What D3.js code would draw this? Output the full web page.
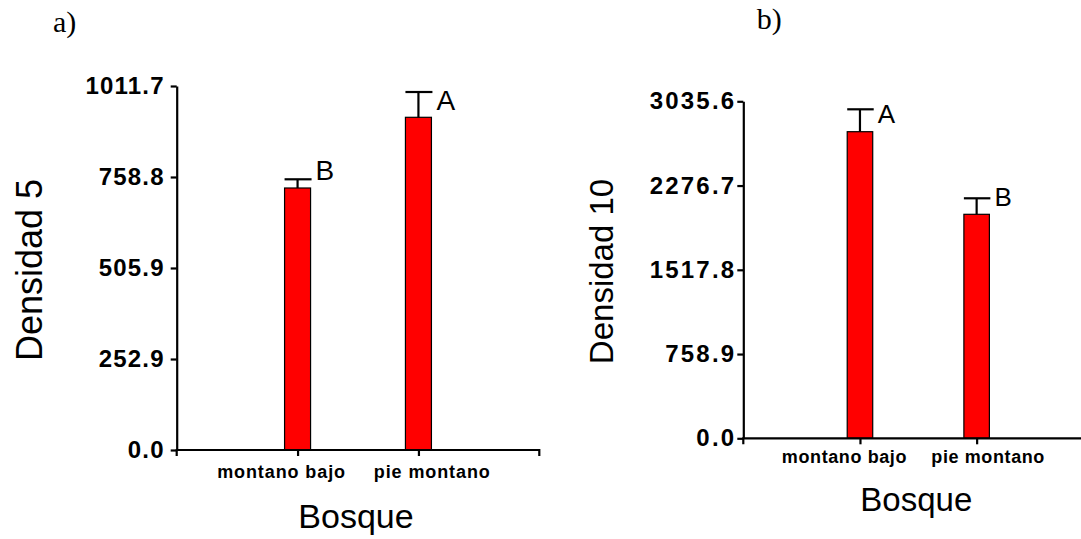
<!DOCTYPE html>
<html>
<head>
<meta charset="utf-8">
<script src="https://cdn.jsdelivr.net/npm/d3@7"></script>
<style>
  html, body { margin: 0; padding: 0; background: #fff; }
  svg { display: block; font-family: "Liberation Sans", Arial, sans-serif; }
</style>
</head>
<body>
<svg id="chart" width="1081" height="539"></svg>
<script>
// Forest types
const categories = ["montano bajo", "pie montano"];

// Panel a: Densidad 5
const meansA = [728.2, 924.7];
const errorsA = [24.2, 70.3];
const lettersA = ["B", "A"];
const ticksA = [0, 252.9, 505.9, 758.8, 1011.7];

// Panel b: Densidad 10
const meansB = [2761.8, 2017.7];
const errorsB = [201.7, 144.2];
const lettersB = ["A", "B"];
const ticksB = [0, 758.9, 1517.8, 2276.7, 3035.6];

const SANS = "'Liberation Sans', Arial, sans-serif";
const SERIF = "'Liberation Serif', 'Times New Roman', serif";
const svg = d3.select("#chart");

function panel(cfg) {
  const g = svg.append("g");
  const yMax = cfg.ticks[cfg.ticks.length - 1];
  const y = d3.scaleLinear().domain([0, yMax]).range([cfg.y0, cfg.y1]);
  const x = d3.scalePoint().domain(categories).range([cfg.x0, cfg.x1]).padding(1);

  // bars
  g.selectAll("rect.bar").data(cfg.means).join("rect")
    .attr("class", "bar")
    .attr("x", (d, i) => x(categories[i]) - cfg.barW / 2)
    .attr("width", cfg.barW)
    .attr("y", d => y(d))
    .attr("height", d => y(0) - y(d))
    .attr("fill", "#ff0000")
    .attr("stroke", "#000")
    .attr("stroke-width", 1.2);

  // upper error bars
  const eb = g.selectAll("g.err").data(cfg.means).join("g").attr("class", "err")
    .attr("stroke", "#000").attr("stroke-width", 2.2);
  eb.append("line")
    .attr("x1", (d, i) => x(categories[i])).attr("x2", (d, i) => x(categories[i]))
    .attr("y1", d => y(d)).attr("y2", (d, i) => y(d + cfg.errors[i]));
  eb.append("line")
    .attr("x1", (d, i) => x(categories[i]) - cfg.barW / 2)
    .attr("x2", (d, i) => x(categories[i]) + cfg.barW / 2 + 1)
    .attr("y1", (d, i) => y(d + cfg.errors[i])).attr("y2", (d, i) => y(d + cfg.errors[i]));

  // significance letters
  g.selectAll("text.letter").data(cfg.letters).join("text")
    .attr("class", "letter")
    .attr("x", (d, i) => x(categories[i]) + cfg.barW / 2 + 5)
    .attr("y", (d, i) => y(cfg.means[i] + cfg.errors[i]) + cfg.letterDy[i])
    .style("font-family", SANS)
    .style("font-size", cfg.letterSize + "px")
    .text(d => d);

  // y axis
  const ya = g.append("g").attr("transform", `translate(${cfg.x0},0)`)
    .call(d3.axisLeft(y).tickValues(cfg.ticks).tickFormat(d3.format(".1f"))
      .tickSize(6).tickSizeOuter(0).tickPadding(cfg.yPad));
  ya.selectAll("path, line").attr("stroke", "#000").attr("stroke-width", 2.2);
  ya.selectAll("text")
    .style("font-family", SANS).style("font-size", "24px").style("font-weight", "bold")
    .attr("letter-spacing", cfg.ySpacing).attr("fill", "#000");

  // x axis
  const xa = g.append("g").attr("transform", `translate(0,${cfg.y0})`)
    .call(d3.axisBottom(x).tickSize(6).tickSizeOuter(6).tickPadding(0));
  xa.select("path.domain").attr("d", `M${cfg.x0},6V0H${cfg.x1}V${cfg.endTick ? 6 : 0}`);
  xa.selectAll("path, line").attr("stroke", "#000").attr("stroke-width", 2.2);
  xa.selectAll("text")
    .style("font-family", SANS).style("font-size", "18px").style("font-weight", "bold")
    .attr("letter-spacing", cfg.xSpacing)
    .attr("fill", "#000")
    .attr("dy", null)
    .attr("y", cfg.catBase)
    .attr("dx", (d, i) => cfg.catDx[i]);

  // axis titles
  g.append("text")
    .attr("transform", `translate(${cfg.yTitleX},${cfg.yTitleY}) rotate(-90)`)
    .attr("text-anchor", "middle")
    .style("font-family", SANS)
    .style("font-size", cfg.yTitleSize + "px")
    .text(cfg.yTitle);
  g.append("text")
    .attr("x", cfg.xTitleX).attr("y", cfg.xTitleY)
    .attr("text-anchor", "middle")
    .style("font-family", SANS)
    .style("font-size", cfg.xTitleSize + "px")
    .text("Bosque");

  // panel tag
  g.append("text")
    .attr("x", cfg.tagX).attr("y", cfg.tagY)
    .style("font-family", SERIF)
    .style("font-size", "30px")
    .text(cfg.tag);
}

panel({
  means: meansA, errors: errorsA, letters: lettersA, ticks: ticksA,
  x0: 176.7, x1: 539.3, y0: 450, y1: 86, barW: 26, endTick: true,
  letterDy: [1, 18], letterSize: 28,
  yPad: 6, ySpacing: 1.2, xSpacing: 0.9, catBase: 28.3, catDx: [-16.5, 13.3],
  yTitle: "Densidad 5", yTitleX: 42, yTitleY: 270, yTitleSize: 36,
  xTitleX: 356, xTitleY: 528.3, xTitleSize: 34,
  tag: "a)", tagX: 53, tagY: 32
});

panel({
  means: meansB, errors: errorsB, letters: lettersB, ticks: ticksB,
  x0: 743.3, x1: 1093.3, y0: 438.3, y1: 101.3, barW: 25.5, endTick: false,
  letterDy: [14, 8], letterSize: 26,
  yPad: 1, ySpacing: 2.2, xSpacing: 0.6, catBase: 25, catDx: [-16, 11],
  yTitle: "Densidad 10", yTitleX: 613.3, yTitleY: 271.5, yTitleSize: 33,
  xTitleX: 916.3, xTitleY: 510.7, xTitleSize: 33,
  tag: "b)", tagX: 756.7, tagY: 28.5
});
</script>
</body>
</html>
